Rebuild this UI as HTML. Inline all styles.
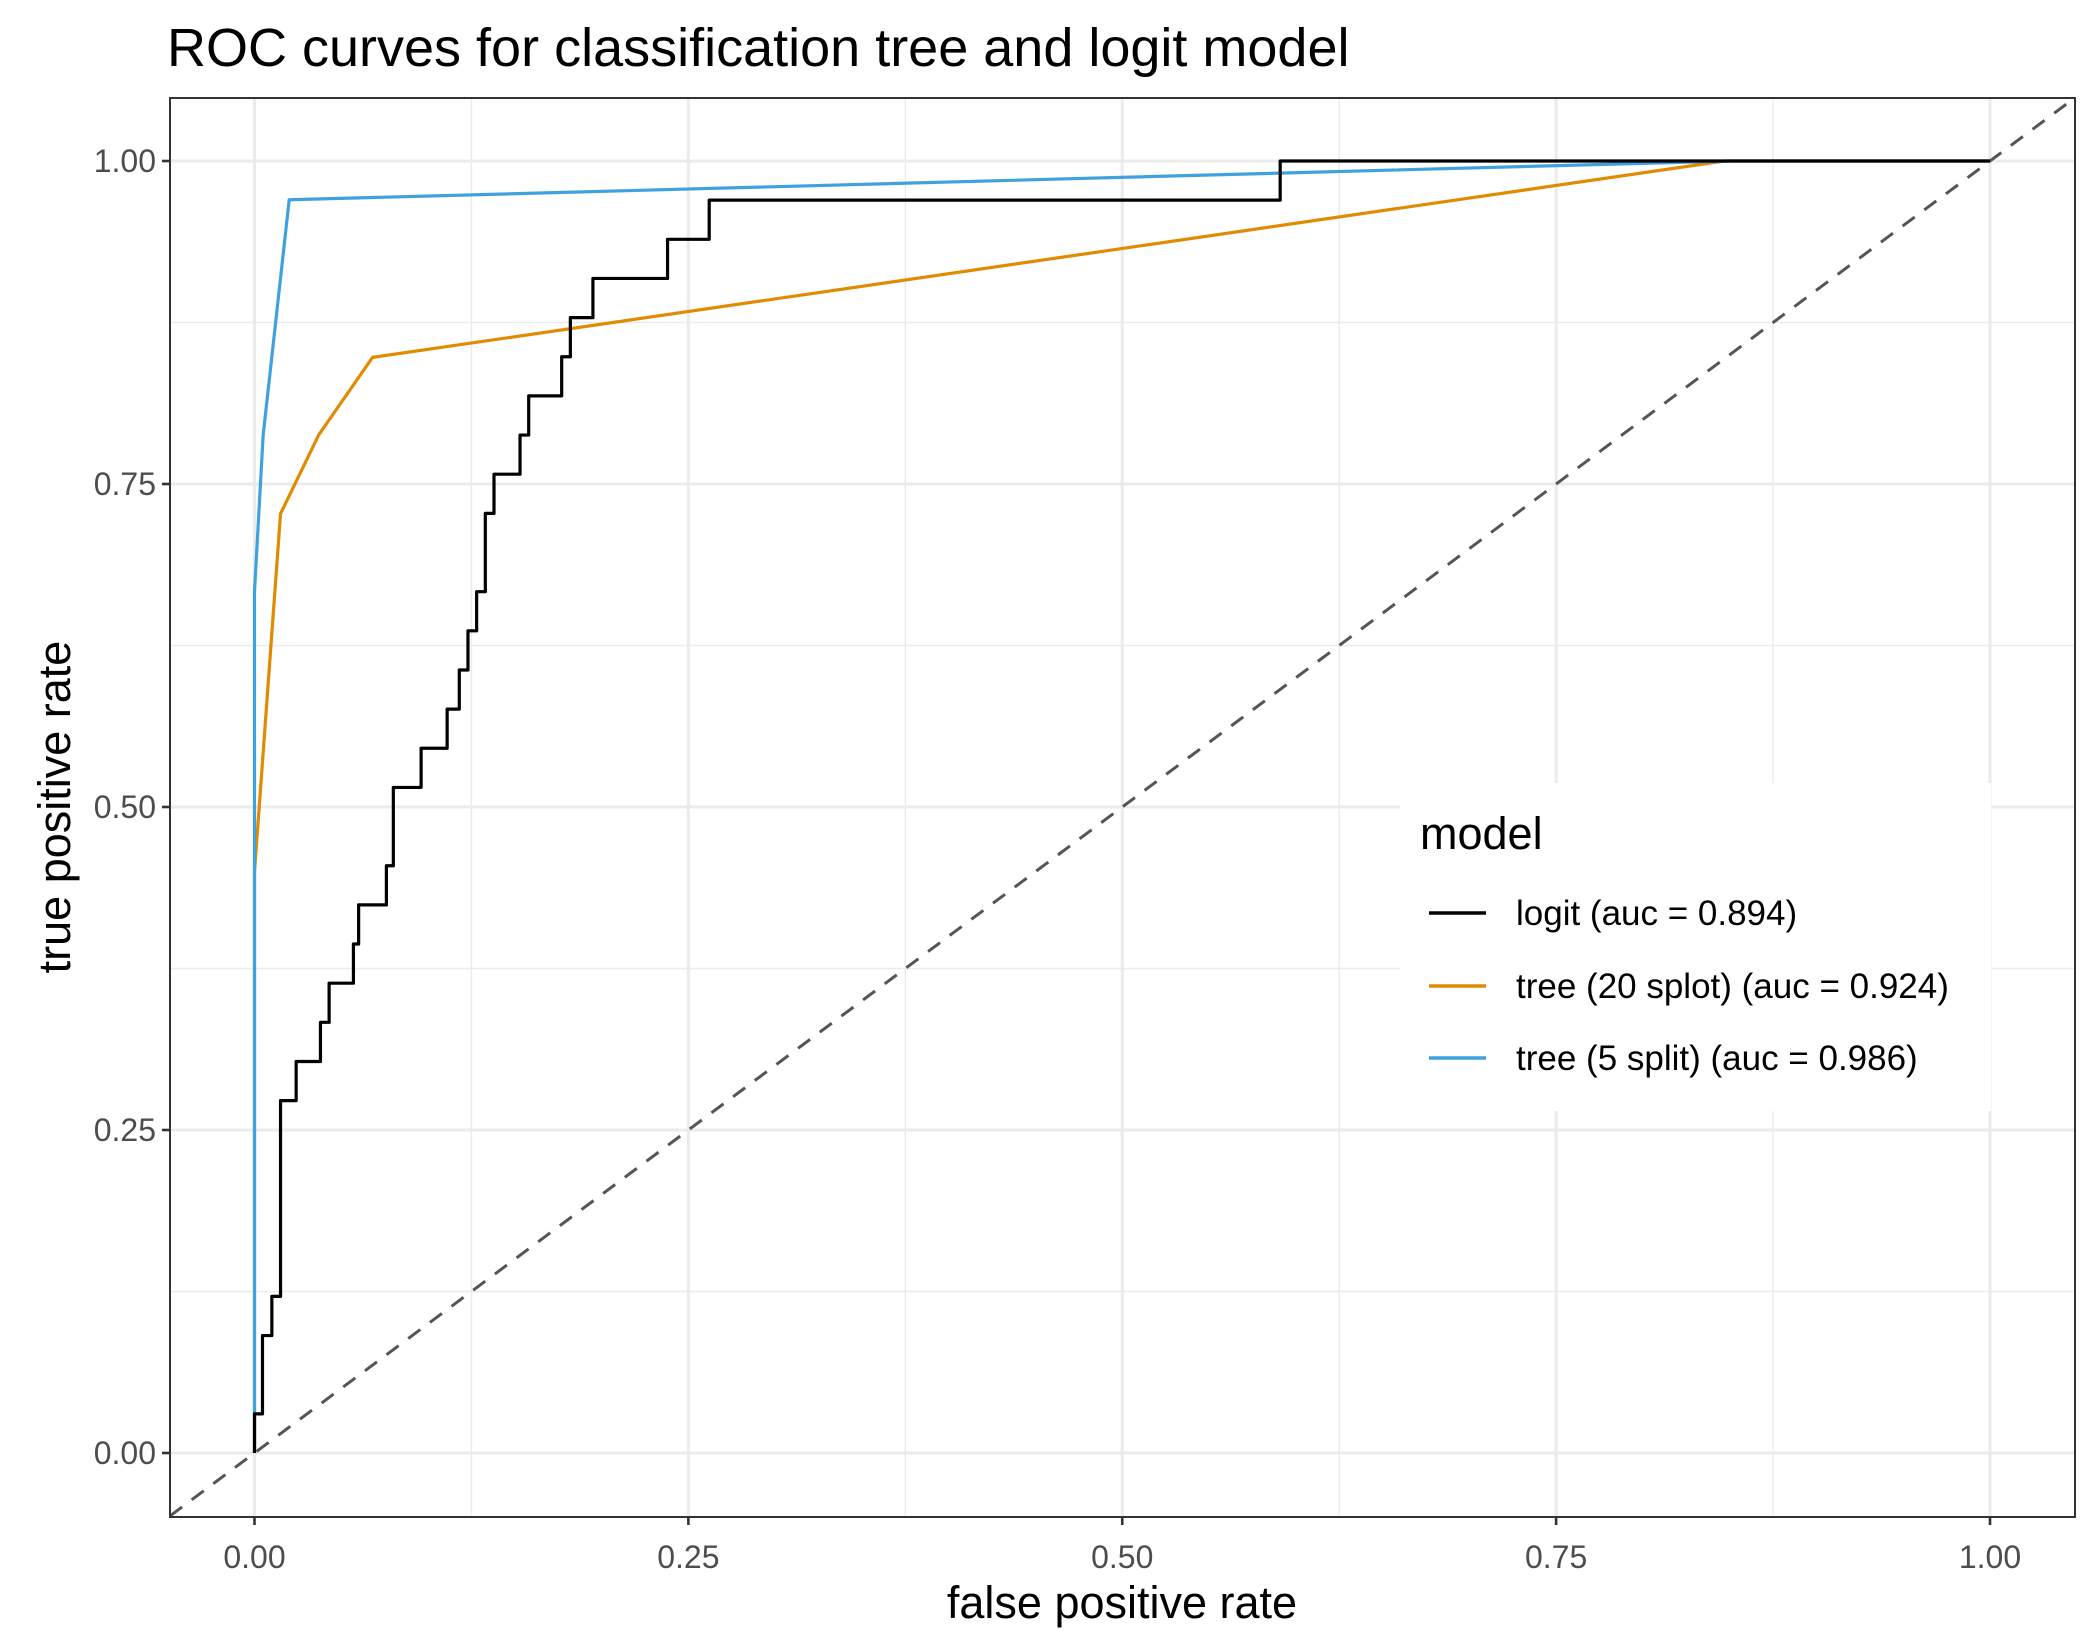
<!DOCTYPE html>
<html><head><meta charset="utf-8"><style>
html,body{margin:0;padding:0;background:#fff}
svg{display:block;font-family:"Liberation Sans",Arial,sans-serif}
</style></head><body>
<svg id="chart" width="2100" height="1650" viewBox="0 0 2100 1650">
<text x="167" y="66" font-size="54" fill="#000">ROC curves for classification tree and logit model</text>
<g id="grid"></g>
<g id="marks"></g>
<g id="axes"></g>
<text x="1122" y="1618" font-size="45" text-anchor="middle">false positive rate</text>
<text transform="translate(70,807) rotate(-90)" font-size="45" text-anchor="middle">true positive rate</text>
<g>
<rect x="1400" y="783" width="591" height="328" fill="#fff"/>
<text x="1420" y="849" font-size="45">model</text>
<g>
<line x1="1429" y1="913" x2="1486" y2="913" stroke="#000" stroke-width="3.5"/>
<text x="1516" y="925" font-size="35">logit (auc = 0.894)</text></g>
<g>
<line x1="1429" y1="986" x2="1486" y2="986" stroke="#E08B00" stroke-width="3.5"/>
<text x="1516" y="998" font-size="35">tree (20 splot) (auc = 0.924)</text></g>
<g>
<line x1="1429" y1="1058" x2="1486" y2="1058" stroke="#3FA2E0" stroke-width="3.5"/>
<text x="1516" y="1070" font-size="35">tree (5 split) (auc = 0.986)</text></g>
</g>
</svg>
<script>
const xTicks=[0,0.25,0.5,0.75,1];
const yTicks=[0,0.25,0.5,0.75,1];
const tickLabels=["0.00","0.25","0.50","0.75","1.00"];
const logitFpr=[0,0,0.0046,0.0046,0.01,0.01,0.015,0.015,0.024,0.024,0.038,0.038,0.043,0.043,0.057,0.057,0.06,0.06,0.076,0.076,0.08,0.08,0.096,0.096,0.111,0.111,0.118,0.118,0.123,0.123,0.128,0.128,0.133,0.133,0.138,0.138,0.153,0.153,0.158,0.158,0.177,0.177,0.182,0.182,0.195,0.195,0.238,0.238,0.262,0.262,0.591,0.591,1];
const logitTpr=[0,1,1,3,3,4,4,9,9,10,10,11,11,12,12,13,13,14,14,15,15,17,17,18,18,19,19,20,20,21,21,22,22,24,24,25,25,26,26,27,27,28,28,29,29,30,30,31,31,32,32,33,33].map(v=>v/33);
const tree20Fpr=[0,0,0.015,0.037,0.068,0.847,1];
const tree20Tpr=[0,0.45,0.727,0.788,0.848,1,1];
const tree5Fpr=[0,0,0.005,0.02,0.85,1];
const tree5Tpr=[0,0.667,0.788,0.97,1,1];
const L=170,R=2075,T=98,B=1517;
const sx=v=>254.5+v*(1990-254.5);
const sy=v=>1453-v*(1453-161);
const NS="http://www.w3.org/2000/svg";
function mk(tag,attrs,parent){const e=document.createElementNS(NS,tag);for(const k in attrs)e.setAttribute(k,attrs[k]);parent.appendChild(e);return e;}
const grid=document.getElementById('grid'),marks=document.getElementById('marks'),axes=document.getElementById('axes');
mk('rect',{x:L,y:T,width:R-L,height:B-T,fill:'#fff'},grid);
for(let i=0;i<xTicks.length-1;i++){const m=(xTicks[i]+xTicks[i+1])/2;
 const g1=mk('line',{x1:sx(m),x2:sx(m),y1:T,y2:B,stroke:'#ebebeb','stroke-width':1.4},grid);
 
 
 const m2=(yTicks[i]+yTicks[i+1])/2;
 const g2=mk('line',{x1:L,x2:R,y1:sy(m2),y2:sy(m2),stroke:'#ebebeb','stroke-width':1.4},grid);
 
 }
xTicks.forEach((v,i)=>{
 const g=mk('line',{x1:sx(v),x2:sx(v),y1:T,y2:B,stroke:'#ebebeb','stroke-width':3},grid);
 
 
 const t=mk('line',{x1:sx(v),x2:sx(v),y1:B,y2:B+8,stroke:'#333','stroke-width':2.6},axes);
 
 
 const tx=mk('text',{x:sx(v),y:B+51,'font-size':32,fill:'#4d4d4d','text-anchor':'middle'},axes);tx.textContent=tickLabels[i];
 
 });
yTicks.forEach((v,i)=>{
 const g=mk('line',{x1:L,x2:R,y1:sy(v),y2:sy(v),stroke:'#ebebeb','stroke-width':3},grid);
 
 
 const t=mk('line',{x1:L-8,x2:L,y1:sy(v),y2:sy(v),stroke:'#333','stroke-width':2.6},axes);
 
 
 const tx=mk('text',{x:L-14,y:sy(v)+11,'font-size':32,fill:'#4d4d4d','text-anchor':'end'},axes);tx.textContent=tickLabels[i];
 
 });
const x0v=Math.max((L-254.5)/(1990-254.5),(1453-B)/(1453-161));
const x1v=Math.min((R-254.5)/(1990-254.5),(1453-T)/(1453-161));
const d=mk('line',{x1:sx(x0v),y1:sy(x0v),x2:sx(x1v),y2:sy(x1v),stroke:'#555','stroke-width':3,'stroke-dasharray':'15,12'},marks);


function series(xs,ys,color,name){
 const p=mk('polyline',{points:xs.map((x,i)=>sx(x)+','+sy(ys[i])).join(' '),fill:'none',stroke:color,'stroke-width':3.2,'stroke-linejoin':'round'},marks);
 
 }
series(tree20Fpr,tree20Tpr,'#E08B00','tree-20-splot-curve');
series(tree5Fpr,tree5Tpr,'#3FA2E0','tree-5-split-curve');
series(logitFpr,logitTpr,'#000','logit-curve');
const b=mk('rect',{x:L,y:T,width:R-L,height:B-T,fill:'none',stroke:'#333','stroke-width':2},axes);


</script>
</body></html>
